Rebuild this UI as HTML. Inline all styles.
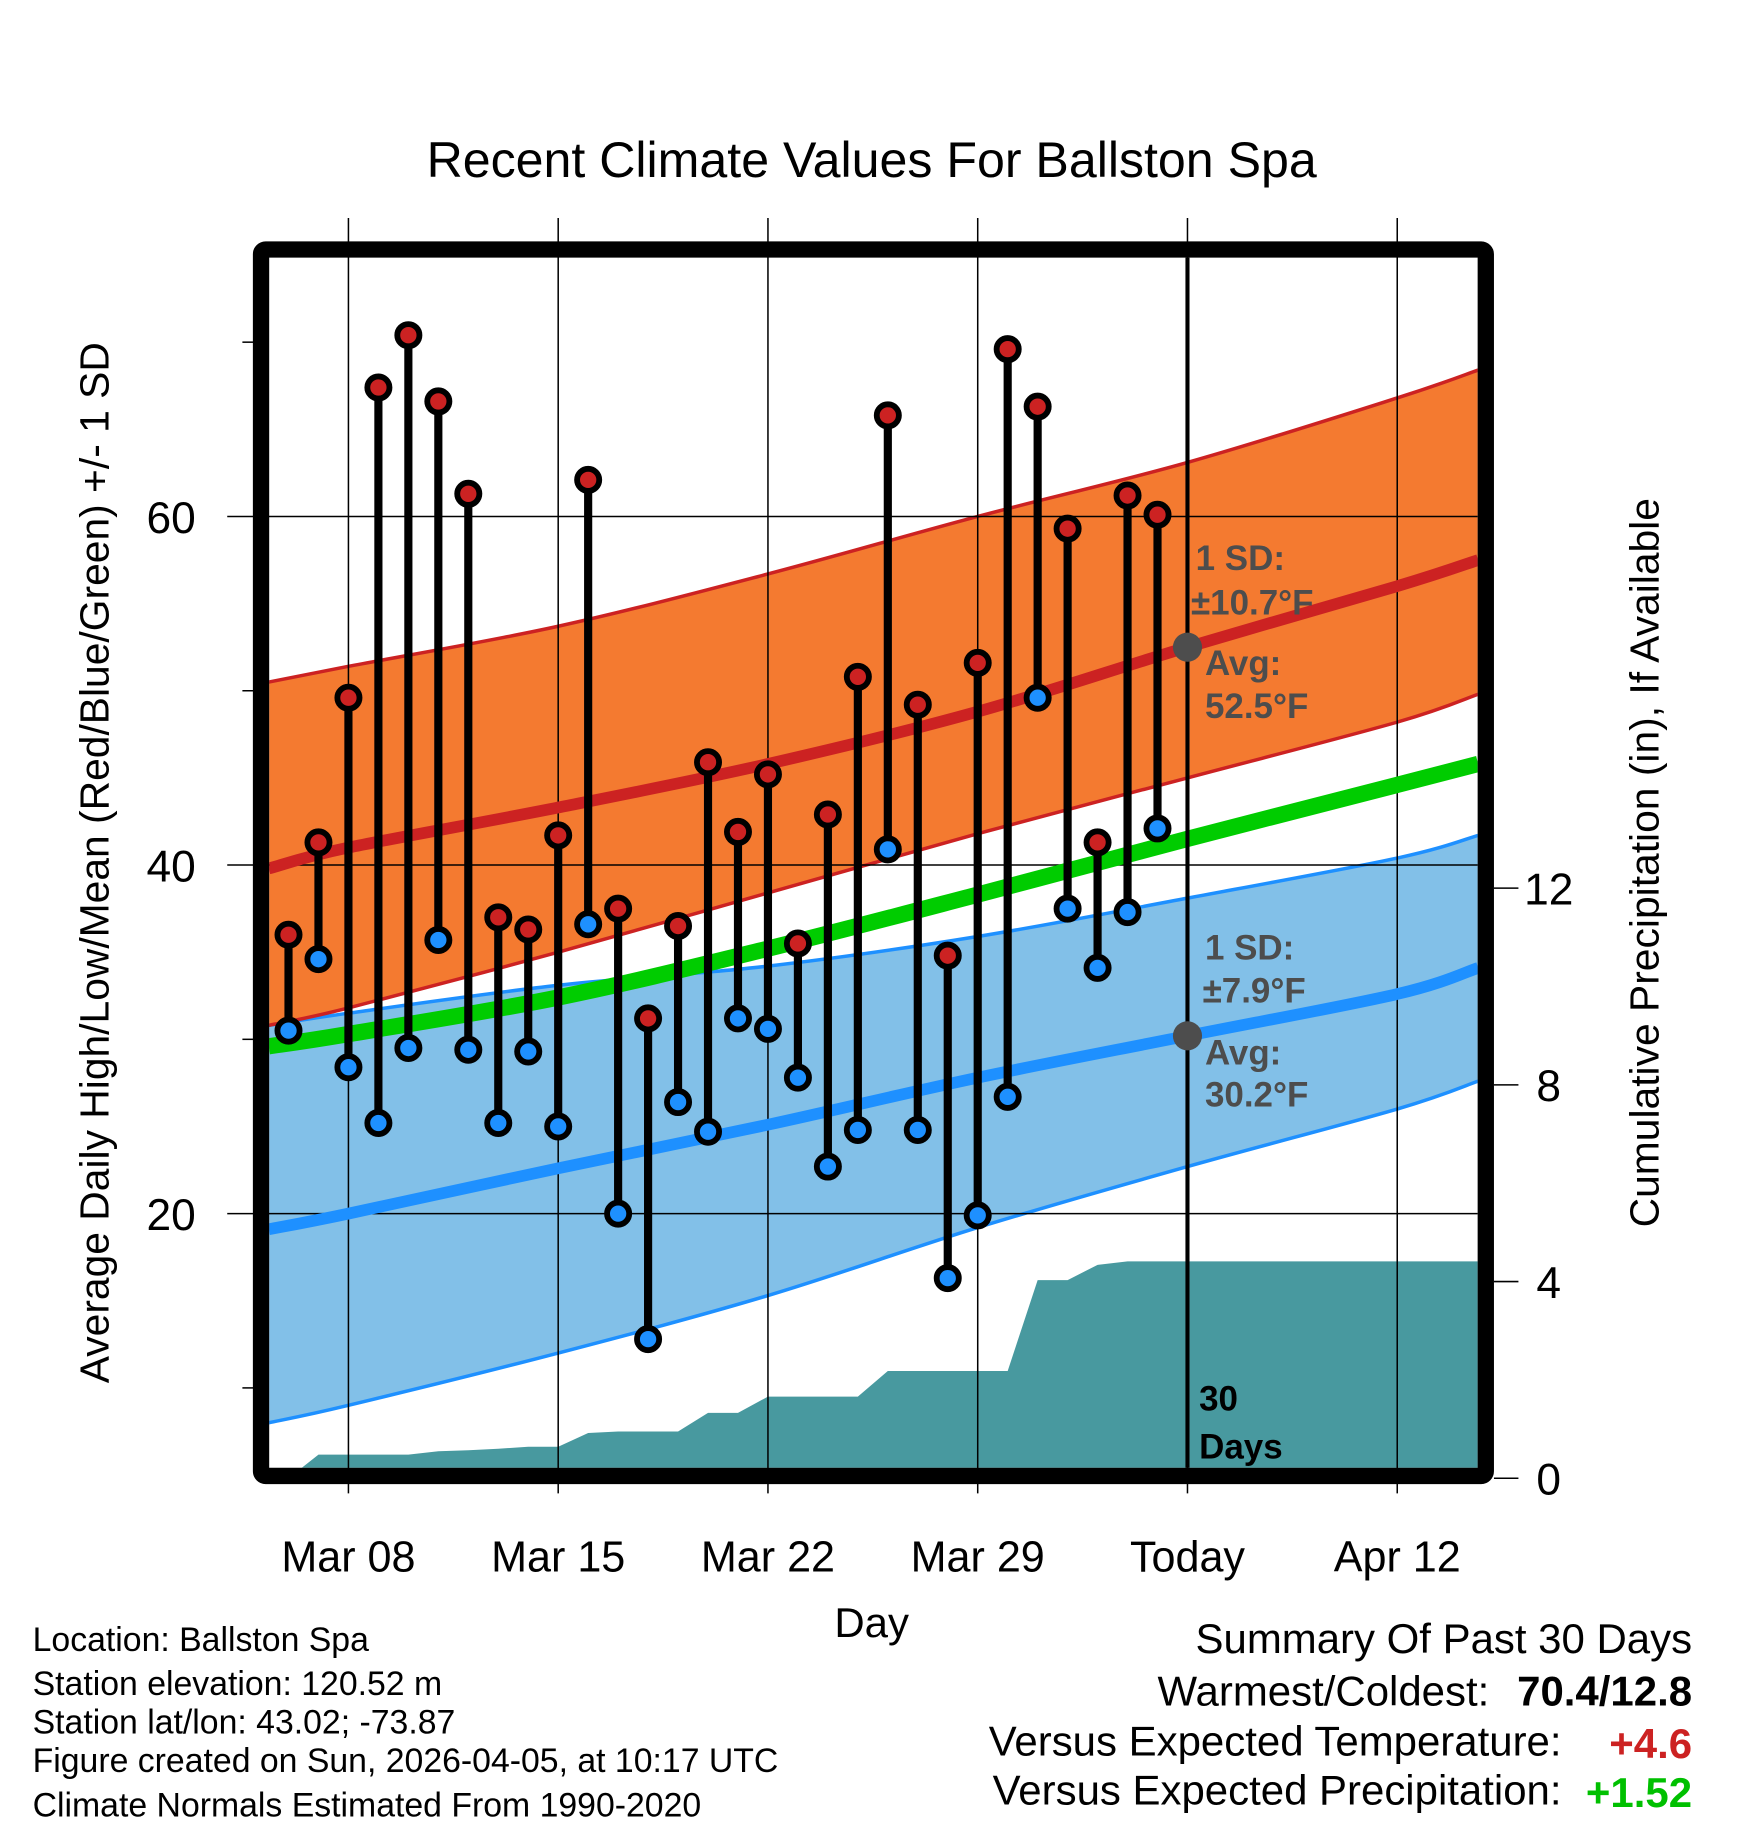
<!DOCTYPE html>
<html><head><meta charset="utf-8"><style>
html,body{margin:0;padding:0;background:#fff;}
svg{display:block;font-family:"Liberation Sans",Arial,sans-serif;}
</style></head><body>
<svg id="chart" width="1748" height="1828" viewBox="0 0 1500 1568" preserveAspectRatio="none" xmlns="http://www.w3.org/2000/svg">
<defs><clipPath id="plotclip"><rect x="231" y="221" width="1037" height="1038"/></clipPath></defs>
<g id="bands" clip-path="url(#plotclip)"></g>
<g id="grid"></g>
<g id="lines" clip-path="url(#plotclip)"></g>
<g id="marks"></g>
<rect x="224" y="214" width="1051" height="1052" fill="none" stroke="#000" stroke-width="14" rx="4"/>
<g id="annot" font-weight="bold" fill="#4d4d4d" font-size="30">
<text x="1026" y="489">1 SD:</text>
<text x="1022" y="527">±10.7°F</text>
<text x="1034" y="579">Avg:</text>
<text x="1034" y="616">52.5°F</text>
<text x="1034" y="823">1 SD:</text>
<text x="1032" y="860">±7.9°F</text>
<text x="1034" y="913">Avg:</text>
<text x="1034" y="949">30.2°F</text>
<text x="1029" y="1210" fill="#000">30</text>
<text x="1029" y="1251" fill="#000">Days</text>
</g>
<text x="748" y="152" text-anchor="middle" font-size="43">Recent Climate Values For Ballston Spa</text>
<text transform="translate(93,740) rotate(-90)" text-anchor="middle" font-size="35">Average Daily High/Low/Mean (Red/Blue/Green) +/- 1 SD</text>
<text transform="translate(1423,740) rotate(-90)" text-anchor="middle" font-size="35">Cumulative Precipitation (in), If Available</text>
<text x="748" y="1404" text-anchor="middle" font-size="36">Day</text>
<g font-size="29">
<text x="28" y="1416">Location: Ballston Spa</text>
<text x="28" y="1454">Station elevation: 120.52 m</text>
<text x="28" y="1487">Station lat/lon: 43.02; -73.87</text>
<text x="28" y="1520">Figure created on Sun, 2026-04-05, at 10:17 UTC</text>
<text x="28" y="1558">Climate Normals Estimated From 1990-2020</text>
</g>
<g font-size="36" text-anchor="end">
<text x="1452" y="1418">Summary Of Past 30 Days</text>
<text x="1278" y="1463">Warmest/Coldest:</text>
<text x="1452" y="1463" font-weight="bold">70.4/12.8</text>
<text x="1340" y="1506">Versus Expected Temperature:</text>
<text x="1452" y="1508" font-weight="bold" fill="#cc2222">+4.6</text>
<text x="1340" y="1548">Versus Expected Precipitation:</text>
<text x="1452" y="1550" font-weight="bold" fill="#00c000">+1.52</text>
</g>
</svg>
<script>
const days = [6,7,8,9,10,11,12,13,14,15,16,17,18,19,20,21,22,23,24,25,26,27,28,29,30,31,32,33,34,35];
const highs = [36.0,41.3,49.6,67.4,70.4,66.6,61.3,37.0,36.3,41.7,62.1,37.5,31.2,36.5,45.9,41.9,45.2,35.5,42.9,50.8,65.8,49.2,34.8,51.6,69.6,66.3,59.3,41.3,61.2,60.1];
const lows = [30.5,34.6,28.4,25.2,29.5,35.7,29.4,25.2,29.3,25.0,36.6,20.0,12.8,26.4,24.7,31.2,30.6,27.8,22.7,24.8,40.9,24.8,16.3,19.9,26.7,49.6,37.5,34.1,37.3,42.1];
const precip = [0,0.48,0.48,0.48,0.48,0.55,0.57,0.60,0.64,0.64,0.92,0.95,0.95,0.95,1.33,1.33,1.66,1.66,1.66,1.66,2.18,2.18,2.18,2.18,2.18,4.03,4.03,4.34,4.41,4.41];
const normDays = [5.34,8,15,22,29,36,43,45.7];
const highMean = [39.8,41.0,43.3,45.8,48.8,52.5,56.0,57.5];
const highUpper = [50.5,51.4,53.7,56.7,60.0,63.1,66.8,68.4];
const highLower = [30.8,31.8,35.0,38.4,41.8,45.0,48.2,49.8];
const lowMean = [19.1,20.0,22.6,25.1,27.8,30.2,32.6,34.1];
const lowUpper = [30.8,31.5,33.1,34.2,35.9,38.1,40.4,41.7];
const lowLower = [8.0,9.0,12.0,15.3,19.2,22.7,26.0,27.6];
const meanTemp = [29.6,30.3,32.4,35.2,38.3,41.5,44.6,45.8];
const yTicks = [20,40,60];
const yMinor = [10,30,50,70];
const pTicks = [0,4,8,12];
const xTickDays = [8,15,22,29,36,43];
const xTickLabels = ["Mar 08","Mar 15","Mar 22","Mar 29","Today","Apr 12"];

const NS="http://www.w3.org/2000/svg";
function X(d){return 299+(d-8)*180/7;}
function Y(v){return 742-(v-40)*14.95;}
function P(v){return 1268-v*42.18;}
function mk(tag,attrs,parent){const e=document.createElementNS(NS,tag);for(const k in attrs)e.setAttribute(k,attrs[k]);parent.appendChild(e);return e;}
const bands=document.getElementById('bands'),grid=document.getElementById('grid'),lines=document.getElementById('lines'),marks=document.getElementById('marks');
function smooth(ds,vs){
  // Catmull-Rom through data points
  const p=ds.map((d,i)=>[X(d),Y(vs[i])]);
  let s='M'+p[0][0]+','+p[0][1];
  for(let i=0;i<p.length-1;i++){
    const p0=p[Math.max(0,i-1)],p1=p[i],p2=p[i+1],p3=p[Math.min(p.length-1,i+2)];
    const c1=[p1[0]+(p2[0]-p0[0])/6,p1[1]+(p2[1]-p0[1])/6];
    const c2=[p2[0]-(p3[0]-p1[0])/6,p2[1]-(p3[1]-p1[1])/6];
    s+=' C'+c1[0]+','+c1[1]+' '+c2[0]+','+c2[1]+' '+p2[0]+','+p2[1];
  }
  return s;
}
function rev(s){return s;}
function band(up,lo,fill,stroke,name){
  const upPath=smooth(normDays,up);
  const loRevPath=smooth(normDays.slice().reverse(),lo.slice().reverse());
  const d=upPath+' L'+loRevPath.slice(1)+' Z';
  const b=mk('path',{d:d,fill:fill},bands);
  
  
  const l1=mk('path',{d:upPath,fill:'none',stroke:stroke,'stroke-width':3},bands);
  
  
  const l2=mk('path',{d:smooth(normDays,lo),fill:'none',stroke:stroke,'stroke-width':3},bands);
  
  
}
band(lowUpper,lowLower,'#82c0e8','#1e90ff','low-sd-band');
band(highUpper,highLower,'#f47a30','#cc2222','high-sd-band');
let pp=X(days[0])+','+P(0)+' ';
days.forEach((d,i)=>{pp+=X(d)+','+P(precip[i])+' ';});
pp+='1270,'+P(precip[precip.length-1])+' 1270,1270';
const pa=mk('polygon',{points:pp,fill:'#48999f'},bands);


yTicks.forEach(v=>{
  const l=mk('line',{x1:195,x2:1268,y1:Y(v),y2:Y(v),stroke:'#000','stroke-width':1.3},grid);
  
  
  const t=mk('text',{x:168,y:Y(v)+14,'text-anchor':'end','font-size':38},grid);
  t.textContent=v;
  
  
});
yMinor.forEach(v=>{
  const l=mk('line',{x1:208,x2:218,y1:Y(v),y2:Y(v),stroke:'#000','stroke-width':1.3},grid);
  
  
});
pTicks.forEach(v=>{
  const l=mk('line',{x1:1282,x2:1303,y1:P(v),y2:P(v),stroke:'#000','stroke-width':1.3},grid);
  
  
  const t=mk('text',{x:1329,y:P(v)+14,'text-anchor':'middle','font-size':38},grid);
  t.textContent=v;
  
  
});
xTickDays.forEach((d,i)=>{
  const l=mk('line',{x1:X(d),x2:X(d),y1:187,y2:1281,stroke:'#000','stroke-width':1.3},grid);
  
  
  const t=mk('text',{x:X(d),y:1348,'text-anchor':'middle','font-size':37},grid);
  t.textContent=xTickLabels[i];
  
  
});
function nline(vs,color,w,name){
  const l=mk('path',{d:smooth(normDays,vs),fill:'none',stroke:color,'stroke-width':w},lines);
  
  
}
nline(meanTemp,'#00cc00',14,'mean-temp-line');
nline(highMean,'#cc2222',10,'avg-high-line');
nline(lowMean,'#1e90ff',10,'avg-low-line');
const tl=mk('line',{x1:X(36),x2:X(36),y1:221,y2:1259,stroke:'#000','stroke-width':3.5},marks);


[[52.5],[30.2]].forEach((v,i)=>{
  const c=mk('circle',{cx:X(36),cy:Y(v[0]),r:12.5,fill:'#4d4d4d'},marks);
  
  
});
days.forEach((d,i)=>{
  const s=mk('line',{x1:X(d),x2:X(d),y1:Y(highs[i]),y2:Y(lows[i]),stroke:'#000','stroke-width':7},marks);
  
  
});
days.forEach((d,i)=>{
  const h=mk('circle',{cx:X(d),cy:Y(highs[i]),r:9.5,fill:'#cc2222',stroke:'#000','stroke-width':5},marks);
  
  
  const l=mk('circle',{cx:X(d),cy:Y(lows[i]),r:9.5,fill:'#1e90ff',stroke:'#000','stroke-width':5},marks);
  
  
});
</script>
</body></html>
